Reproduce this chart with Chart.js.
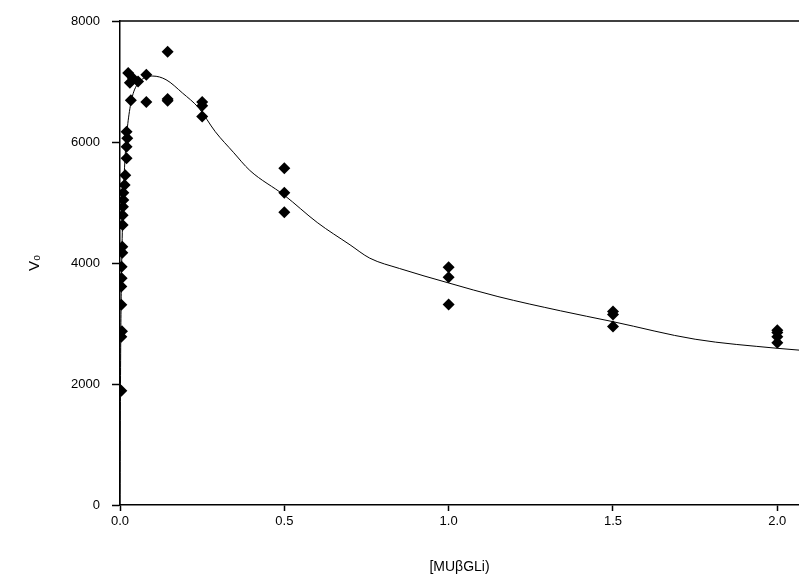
<!DOCTYPE html>
<html>
<head>
<meta charset="utf-8">
<script src="https://cdn.jsdelivr.net/npm/chart.js@4/dist/chart.umd.min.js"></script>
<style>
  html, body { margin: 0; padding: 0; background: #fff; }
  #wrap { width: 799px; height: 586px; }
</style>
</head>
<body>
<div id="wrap"><canvas id="chart" width="799" height="586"></canvas></div>
<script>
// measured points (substrate concentration vs V0)
const pointX = [
    0.004, 0.004, 0.006, 0.004, 0.004, 0.005, 0.005, 0.007, 0.007, 0.008,
    0.008, 0.009, 0.01, 0.01, 0.014, 0.016, 0.02, 0.02, 0.022, 0.02,
    0.025, 0.03, 0.04, 0.055, 0.08, 0.033, 0.08, 0.145, 0.145, 0.145,
    0.25, 0.25, 0.25, 0.5, 0.5, 0.5, 1.0, 1.0, 1.0,
    1.5, 1.5, 1.5, 2.0, 2.0, 2.0, 2.0
];
const pointY = [
    1890, 2780, 2870, 3310, 3610, 3750, 3940, 4170, 4270, 4630,
    4790, 4930, 5040, 5160, 5290, 5450, 5730, 5920, 6060, 6170,
    7140, 6980, 7050, 7000, 7110, 6690, 6660, 7490, 6710, 6680,
    6660, 6600, 6420, 5565, 5160, 4840, 3930, 3765, 3315,
    3200, 3150, 2950, 2890, 2850, 2780, 2680
];

// fitted curve
const curveX = [
    0, 0.001, 0.002, 0.004, 0.007, 0.01, 0.015, 0.02, 0.03, 0.04,
    0.06, 0.1, 0.14, 0.19, 0.24, 0.29, 0.345, 0.395, 0.5, 0.6,
    0.7, 0.76, 0.85, 1.0, 1.15, 1.34, 1.5, 1.75, 2.0, 2.066
];
const curveY = [
    0, 1400, 2500, 3600, 4500, 5100, 5700, 6100, 6550, 6800,
    7000, 7090, 7030, 6810, 6560, 6170, 5830, 5530, 5120, 4670,
    4300, 4080, 3910, 3670, 3445, 3210, 3030, 2740, 2590, 2560
];

const xTicks = [0, 0.5, 1.0, 1.5, 2.0];
const yTicks = [0, 2000, 4000, 6000, 8000];

const FONT = "'Liberation Sans', Arial, sans-serif";

const topFrame = {
    id: "topFrame",
    afterDraw(chart) {
        const { ctx, chartArea } = chart;
        ctx.save();
        ctx.strokeStyle = "#000";
        ctx.lineWidth = 1.5;
        ctx.beginPath();
        ctx.moveTo(chartArea.left, chartArea.top);
        ctx.lineTo(chartArea.right, chartArea.top);
        ctx.stroke();
        ctx.restore();
    },
};

new Chart(document.getElementById("chart"), {
    type: "scatter",
    data: {
        datasets: [
            {
                label: "fit",
                type: "line",
                data: curveX.map((x, i) => ({ x, y: curveY[i] })),
                borderColor: "#000",
                borderWidth: 1,
                pointRadius: 0,
                cubicInterpolationMode: "monotone",
                fill: false,
            },
            {
                label: "V0",
                data: pointX.map((x, i) => ({ x, y: pointY[i] })),
                pointStyle: "rectRot",
                pointRadius: 6,
                backgroundColor: "#000",
                borderColor: "#000",
                borderWidth: 0,
            },
        ],
    },
    options: {
        responsive: false,
        animation: false,
        layout: {
            autoPadding: false,
            padding: { top: 21, right: 0, left: 0, bottom: 0 },
        },
        plugins: {
            legend: { display: false },
            tooltip: { enabled: false },
        },
        scales: {
            x: {
                type: "linear",
                min: 0,
                max: 2.066,
                afterBuildTicks: (scale) => {
                    scale.ticks = xTicks.map((v) => ({ value: v }));
                },
                afterFit: (scale) => {
                    scale.height = 81;
                    scale.paddingRight = 0;
                },
                grid: {
                    drawOnChartArea: false,
                    drawTicks: true,
                    tickLength: 6,
                    tickColor: "#000",
                    tickWidth: 1.5,
                },
                border: { display: true, color: "#000", width: 1.5 },
                ticks: {
                    color: "#000",
                    font: { family: FONT, size: 13 },
                    padding: 3,
                    callback: (v) => Number(v).toFixed(1),
                },
                title: {
                    display: true,
                    text: "[MUβGLi)",
                    color: "#000",
                    font: { family: FONT, size: 14 },
                    padding: { top: 0, bottom: 10 },
                },
            },
            y: {
                type: "linear",
                min: 0,
                max: 8000,
                afterBuildTicks: (scale) => {
                    scale.ticks = yTicks.map((v) => ({ value: v }));
                },
                afterFit: (scale) => {
                    scale.width = 120;
                },
                grid: {
                    drawOnChartArea: false,
                    drawTicks: true,
                    tickLength: 8,
                    tickColor: "#000",
                    tickWidth: 1.5,
                },
                border: { display: true, color: "#000", width: 1.5 },
                ticks: {
                    color: "#000",
                    font: { family: FONT, size: 13 },
                    padding: 12,
                    callback: (v) => String(v),
                },
                title: {
                    display: true,
                    text: "V₀",
                    color: "#000",
                    font: { family: FONT, size: 15 },
                    padding: { top: 26, bottom: 0 },
                },
            },
        },
    },
    plugins: [topFrame],
});
</script>
</body>
</html>
